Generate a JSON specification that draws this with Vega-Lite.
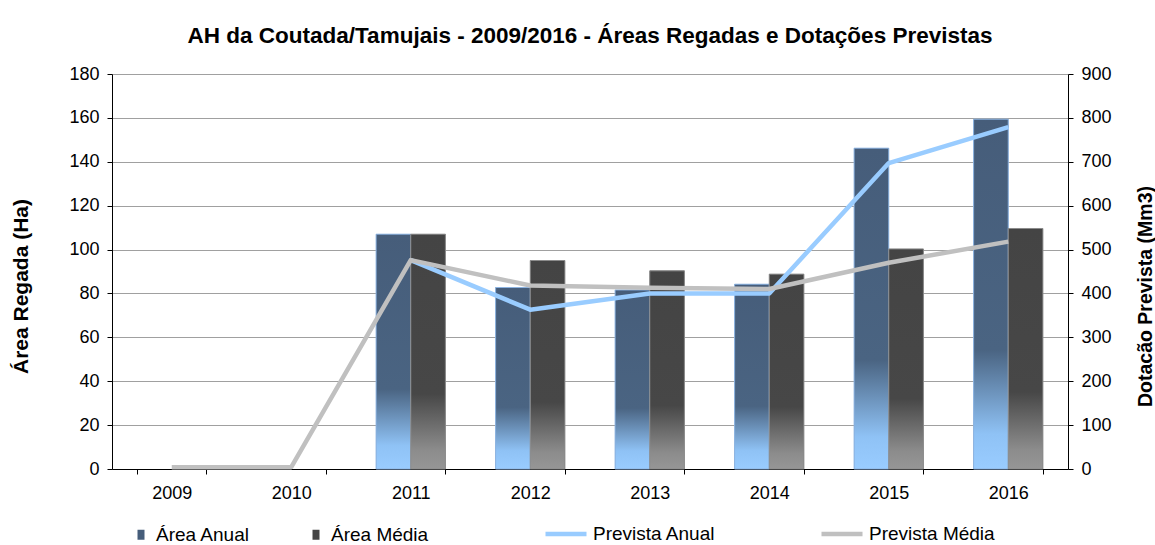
{
  "$schema": "https://vega.github.io/schema/vega-lite/v6.json",
  "width": 956,
  "height": 395,
  "autosize": {"type": "none"},
  "padding": {"left": 112, "top": 74, "right": 87, "bottom": 76},
  "background": "white",
  "title": {
    "text": "AH da Coutada/Tamujais - 2009/2016 - Áreas Regadas e Dotações Previstas",
    "font": "Liberation Sans",
    "fontSize": 22.5,
    "fontWeight": "bold",
    "color": "black",
    "anchor": "middle",
    "baseline": "alphabetic",
    "offset": 0
  },
  "datasets": {
    "bars": [
      {"ano": "2011", "serie": "Área Anual", "area": 107},
      {"ano": "2011", "serie": "Área Média", "area": 107},
      {"ano": "2012", "serie": "Área Anual", "area": 82.7},
      {"ano": "2012", "serie": "Área Média", "area": 95},
      {"ano": "2013", "serie": "Área Anual", "area": 81.6},
      {"ano": "2013", "serie": "Área Média", "area": 90.3},
      {"ano": "2014", "serie": "Área Anual", "area": 84.2},
      {"ano": "2014", "serie": "Área Média", "area": 88.8},
      {"ano": "2015", "serie": "Área Anual", "area": 146.2},
      {"ano": "2015", "serie": "Área Média", "area": 100.3},
      {"ano": "2016", "serie": "Área Anual", "area": 159.4},
      {"ano": "2016", "serie": "Área Média", "area": 109.6}
    ],
    "lines": [
      {"ano": "2011", "serie2": "Prevista Anual", "dot": 476},
      {"ano": "2012", "serie2": "Prevista Anual", "dot": 363},
      {"ano": "2013", "serie2": "Prevista Anual", "dot": 400},
      {"ano": "2014", "serie2": "Prevista Anual", "dot": 400},
      {"ano": "2015", "serie2": "Prevista Anual", "dot": 697},
      {"ano": "2016", "serie2": "Prevista Anual", "dot": 779},
      {"ano": "2009", "serie2": "Prevista Média", "dot": 4},
      {"ano": "2010", "serie2": "Prevista Média", "dot": 4},
      {"ano": "2011", "serie2": "Prevista Média", "dot": 476},
      {"ano": "2012", "serie2": "Prevista Média", "dot": 418},
      {"ano": "2013", "serie2": "Prevista Média", "dot": 413},
      {"ano": "2014", "serie2": "Prevista Média", "dot": 410},
      {"ano": "2015", "serie2": "Prevista Média", "dot": 470},
      {"ano": "2016", "serie2": "Prevista Média", "dot": 518}
    ]
  },
  "layer": [
    {
      "layer": [
        {
          "data": {"name": "bars"},
          "mark": {"type": "bar", "stroke": null},
          "encoding": {
            "x": {"field": "ano", "type": "nominal", "title": null, "sort": ["2009", "2010", "2011", "2012", "2013", "2014", "2015", "2016"], "scale": {"domain": ["2009", "2010", "2011", "2012", "2013", "2014", "2015", "2016"], "paddingInner": 0.42, "paddingOuter": 0.21}},
            "xOffset": {"field": "serie", "type": "nominal", "scale": {"domain": ["Área Anual", "Área Média"], "paddingInner": 0, "paddingOuter": 0}},
            "y": {"field": "area", "type": "quantitative", "title": "Área Regada (Ha)", "scale": {"domain": [0, 180]}},
            "fill": {
              "field": "serie",
              "type": "nominal",
              "scale": {"domain": ["Área Anual", "Área Média"], "range": ["#465D7A", "#454545"]},
              "legend": {
                "orient": "none",
                "legendX": 19.5,
                "legendY": 451,
                "direction": "horizontal",
                "title": null,
                "symbolType": "M-0.7,-1H0.7V1H-0.7Z",
                "symbolSize": 100,
                "symbolStrokeWidth": 1,
                "symbolOpacity": 1,
                "labelFont": "Liberation Sans",
                "labelFontSize": 19,
                "labelColor": "black",
                "labelOffset": 5.5,
                "columnPadding": 56,
                "padding": 0,
                "encode": {"symbols": {"update": {"stroke": {"signal": "datum.value === 'Área Anual' ? '#8DB4E2' : '#8C8C8C'"}}}}
              }
            }
          }
        },
        {
          "data": {"name": "bars"},
          "mark": {"type": "bar", "strokeWidth": 1},
          "encoding": {
            "x": {"field": "ano", "type": "nominal", "title": null, "sort": ["2009", "2010", "2011", "2012", "2013", "2014", "2015", "2016"], "scale": {"domain": ["2009", "2010", "2011", "2012", "2013", "2014", "2015", "2016"], "paddingInner": 0.42, "paddingOuter": 0.21}},
            "xOffset": {"field": "serie", "type": "nominal", "scale": {"domain": ["Área Anual", "Área Média"], "paddingInner": 0, "paddingOuter": 0}},
            "y": {"field": "area", "type": "quantitative", "title": "Área Regada (Ha)", "scale": {"domain": [0, 180]}},
            "fill": {
              "condition": {
                "test": "datum.serie === 'Área Anual'",
                "value": {"gradient": "linear", "x1": 0, "y1": 0, "x2": 0, "y2": 1, "stops": [{"offset": 0, "color": "#465D7A"}, {"offset": 0.66, "color": "#4A6482"}, {"offset": 0.9, "color": "#8FC2F5"}, {"offset": 1, "color": "#99CCFF"}]}
              },
              "value": {"gradient": "linear", "x1": 0, "y1": 0, "x2": 0, "y2": 1, "stops": [{"offset": 0, "color": "#444444"}, {"offset": 0.68, "color": "#474747"}, {"offset": 0.92, "color": "#8C8C8C"}, {"offset": 1, "color": "#969696"}]}
            },
            "stroke": {
              "condition": {"test": "datum.serie === 'Área Anual'", "value": "#8DB4E2"},
              "value": "#8C8C8C"
            }
          }
        }
      ]
    },
    {
      "data": {"name": "lines"},
      "mark": {"type": "line", "strokeWidth": 4.5, "strokeJoin": "round"},
      "encoding": {
        "x": {"field": "ano", "type": "nominal", "title": null, "sort": ["2009", "2010", "2011", "2012", "2013", "2014", "2015", "2016"], "scale": {"domain": ["2009", "2010", "2011", "2012", "2013", "2014", "2015", "2016"], "paddingInner": 0.42, "paddingOuter": 0.21}},
        "y": {
          "field": "dot",
          "type": "quantitative",
          "title": "Dotacão Prevista (Mm3)",
          "scale": {"domain": [0, 900]},
          "axis": {
            "orient": "right",
            "values": [0, 100, 200, 300, 400, 500, 600, 700, 800, 900],
            "grid": false,
            "titleFontSize": 19.5,
            "titleAngle": 270,
            "titleX": 77,
            "titleY": 222,
            "titleAlign": "center",
            "titleBaseline": "middle"
          }
        },
        "stroke": {
          "field": "serie2",
          "type": "nominal",
          "scale": {"domain": ["Prevista Anual", "Prevista Média"], "range": ["#99CCFF", "#C0C0C0"]},
          "legend": {
            "orient": "none",
            "legendX": 431,
            "legendY": 437,
            "direction": "horizontal",
            "title": null,
            "symbolType": "stroke",
            "symbolSize": 1681,
            "symbolStrokeWidth": 4.5,
            "labelFont": "Liberation Sans",
            "labelFontSize": 19,
            "labelColor": "black",
            "labelOffset": 4,
            "columnPadding": 96,
            "padding": 0
          }
        }
      }
    }
  ],
  "resolve": {"scale": {"y": "independent"}},
  "config": {
    "view": {"stroke": null},
    "font": "Liberation Sans",
    "axis": {
      "labelFont": "Liberation Sans",
      "labelFontSize": 18,
      "labelColor": "black",
      "titleFont": "Liberation Sans",
      "titleFontSize": 19,
      "titleFontWeight": "bold",
      "titleColor": "black",
      "domainColor": "black",
      "domainWidth": 1,
      "tickColor": "black",
      "tickSize": 5,
      "labelPadding": 8
    },
    "axisX": {"labelAngle": 0, "tickBand": "extent", "grid": false, "labelPadding": 10},
    "axisLeft": {
      "values": [0, 20, 40, 60, 80, 100, 120, 140, 160, 180],
      "grid": true,
      "gridColor": "#A0A0A0",
      "gridWidth": 1,
      "titleFontSize": 21,
      "titleAngle": 270,
      "titleX": -91,
      "titleY": 212,
      "titleAlign": "center",
      "titleBaseline": "middle"
    }
  }
}
